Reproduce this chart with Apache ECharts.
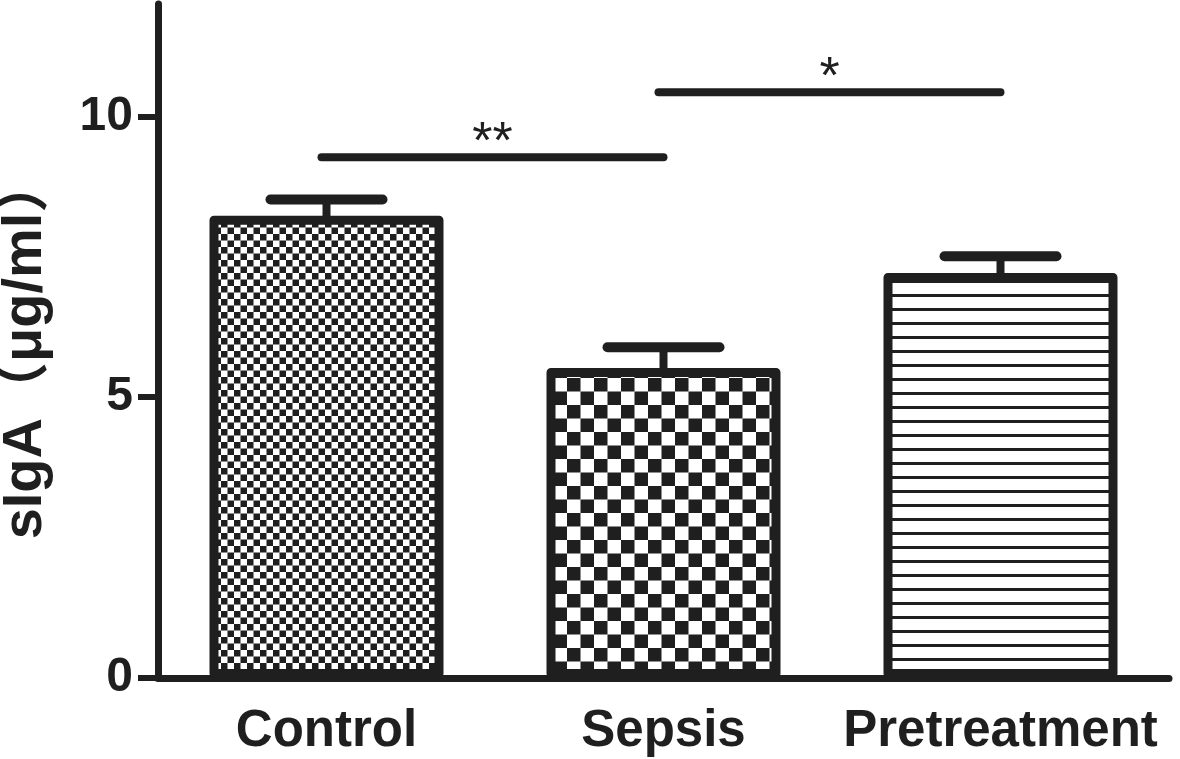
<!DOCTYPE html>
<html><head><meta charset="utf-8">
<script src="https://cdn.jsdelivr.net/npm/echarts@6/dist/echarts.min.js"></script>
<style>html,body{margin:0;padding:0;background:#fff}#chart{width:1180px;height:759px}</style>
</head><body><div id="chart"></div>
<script>
const categories = ['Control', 'Sepsis', 'Pretreatment'];
const means = [8.23, 5.52, 7.21];
const upperErrors = [8.52, 5.89, 7.51];
const yTicks = [0, 5, 10];
const sigFrom = [0, 1];
const sigTo = [1, 2];
const sigHeights = [9.27, 10.43];
const sigLabels = ['**', '*'];
const yAxisName = 'sIgA（μg/ml）';

const ink = '#1f1f1f';
const FONT = '"Liberation Sans", Arial, "Noto Sans CJK SC", sans-serif';

function checker(size) {
  const n = Math.round(size * 2);
  const c = document.createElement('canvas');
  c.width = n; c.height = n;
  const ctx = c.getContext('2d');
  ctx.fillStyle = '#fff'; ctx.fillRect(0, 0, n, n);
  ctx.fillStyle = ink;
  ctx.fillRect(0, 0, n / 2, n / 2);
  ctx.fillRect(n / 2, n / 2, n / 2, n / 2);
  return { image: c, repeat: 'repeat' };
}
function stripes(period, thick) {
  const c = document.createElement('canvas');
  c.width = 8; c.height = period;
  const ctx = c.getContext('2d');
  ctx.fillStyle = '#fff'; ctx.fillRect(0, 0, 8, period);
  ctx.fillStyle = ink; ctx.fillRect(0, 0, 8, thick);
  return { image: c, repeat: 'repeat' };
}
const fills = [checker(6.5), checker(13.5), stripes(14, 3)];

const chart = echarts.init(document.getElementById('chart'), null, { renderer: 'canvas' });
chart.setOption({
  animation: false,
  backgroundColor: '#fff',
  grid: { left: 158, right: 11, top: 4, bottom: 81, containLabel: false, outerBoundsMode: 'none' },
  xAxis: {
    type: 'category',
    data: categories,
    axisLine: { lineStyle: { color: ink, width: 7 } },
    axisTick: { alignWithLabel: true, length: 22, lineStyle: { color: ink, width: 6 } },
    axisLabel: { color: ink, fontSize: 51, fontWeight: 'bold', fontFamily: FONT, margin: 28,
                 interval: 0, hideOverlap: false },
    splitLine: { show: false }
  },
  yAxis: {
    type: 'value',
    min: 0, max: 12, interval: 5,
    name: yAxisName,
    nameLocation: 'middle',
    nameGap: 104,
    nameTextStyle: { color: ink, fontSize: 56, fontWeight: 'bold', fontFamily: FONT, padding: [0, 14, 0, 0] },
    axisLine: { show: true, lineStyle: { color: ink, width: 7 } },
    axisTick: { show: true, length: 20, customValues: yTicks, lineStyle: { color: ink, width: 6 } },
    axisLabel: { color: ink, fontSize: 48, fontWeight: 'bold', fontFamily: FONT, margin: 25, customValues: yTicks },
    splitLine: { show: false }
  },
  series: [
    {
      type: 'bar',
      barWidth: 234,
      data: means.map((v, i) => ({ value: v, itemStyle: { color: fills[i] } })),
      itemStyle: { borderColor: ink, borderWidth: 9, borderJoin: 'round' },
      silent: true,
      z: 2
    },
    {
      type: 'custom',
      silent: true,
      z: 3,
      data: categories.map((c, i) => [i, means[i], upperErrors[i]]),
      encode: { x: 0, y: 2 },
      renderItem: function (params, api) {
        const base = api.coord([api.value(0), api.value(1)]);
        const top = api.coord([api.value(0), api.value(2)]);
        return {
          type: 'group',
          children: [
            { type: 'line', shape: { x1: base[0], y1: base[1] + 4, x2: top[0], y2: top[1] },
              style: { stroke: ink, lineWidth: 8 } },
            { type: 'line', shape: { x1: top[0] - 56, y1: top[1], x2: top[0] + 56, y2: top[1] },
              style: { stroke: ink, lineWidth: 10, lineCap: 'round' } }
          ]
        };
      }
    },
    {
      type: 'custom',
      silent: true,
      z: 3,
      data: sigFrom.map((f, i) => [f, sigTo[i], sigHeights[i]]),
      encode: { x: 0, y: 2 },
      renderItem: function (params, api) {
        const p1 = api.coord([api.value(0), api.value(2)]);
        const p2 = api.coord([api.value(1), api.value(2)]);
        const mid = (p1[0] - 5 + p2[0]) / 2;
        return {
          type: 'group',
          children: [
            { type: 'line', shape: { x1: p1[0] - 5, y1: p1[1], x2: p2[0], y2: p2[1] },
              style: { stroke: ink, lineWidth: 8, lineCap: 'round' } },
            { type: 'text', x: mid, y: p1[1] - 14,
              style: { text: sigLabels[params.dataIndex], fill: ink, font: '52px ' + FONT,
                       align: 'center', verticalAlign: 'middle' } }
          ]
        };
      }
    }
  ]
});
</script>
</body></html>
